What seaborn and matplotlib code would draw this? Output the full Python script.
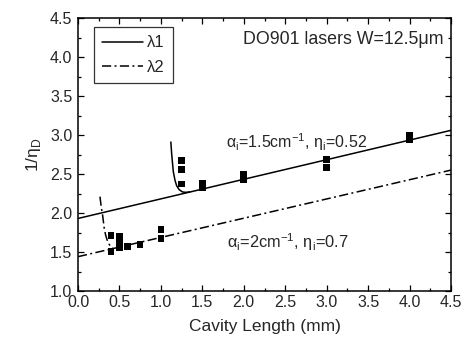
import matplotlib
matplotlib.use("Agg")
import matplotlib.pyplot as plt
import seaborn as sns
import pandas as pd
from matplotlib.ticker import MultipleLocator, FormatStrFormatter
from matplotlib.lines import Line2D

# ---- data ----
len_mm = [0.4, 0.4, 0.5, 0.5, 0.5, 0.6, 0.75, 1.0, 1.0,
          1.25, 1.25, 1.25, 1.5, 1.5, 2.0, 2.0, 3.0, 3.0, 4.0, 4.0]
inv_eta = [1.71, 1.51, 1.70, 1.62, 1.56, 1.57, 1.60, 1.79, 1.67,
           2.67, 2.56, 2.37, 2.38, 2.32, 2.49, 2.43, 2.69, 2.58, 3.00, 2.94]

fit_x = [0.0, 4.5]
fit1_y = [1.93, 3.06]
fit2_y = [1.44, 2.55]

curve1_x = [1.12, 1.13, 1.14, 1.15, 1.17, 1.19, 1.22, 1.26, 1.30, 1.35]
curve1_y = [2.91, 2.76, 2.64, 2.53, 2.42, 2.35, 2.30, 2.27, 2.265, 2.27]
curve2_x = [0.265, 0.28, 0.297, 0.317, 0.335, 0.353, 0.375, 0.40, 0.43]
curve2_y = [2.21, 2.08, 1.97, 1.80, 1.71, 1.65, 1.60, 1.56, 1.54]

series_labels = ["λ1", "λ2"]
title_text = "DO901 lasers W=12.5μm"
anno1 = "α$_\\mathregular{i}$=1.5cm$^\\mathregular{-1}$, η$_\\mathregular{i}$=0.52"
anno2 = "α$_\\mathregular{i}$=2cm$^\\mathregular{-1}$, η$_\\mathregular{i}$=0.7"

sns.set_style("ticks")
plt.rcParams["font.family"] = ["Liberation Sans", "DejaVu Sans"]
plt.rcParams["mathtext.fontset"] = "custom"
plt.rcParams["mathtext.rm"] = "Liberation Sans"

fig = plt.figure(figsize=(4.66, 3.52), dpi=100)
ax = fig.add_axes([78/466, 1-291/352, (451-78)/466, (291-18)/352])

dash = (0, (6.0, 2.2, 1.3, 2.2))
pts = pd.DataFrame({"L": len_mm, "y": inv_eta})
f1 = pd.DataFrame({"L": fit_x, "y": fit1_y})
f2 = pd.DataFrame({"L": fit_x, "y": fit2_y})
c1 = pd.DataFrame({"L": curve1_x, "y": curve1_y})
c2 = pd.DataFrame({"L": curve2_x, "y": curve2_y})

lw = 1.1
sns.lineplot(data=f1, x="L", y="y", ax=ax, color="black", lw=lw, legend=False)
sns.lineplot(data=f2, x="L", y="y", ax=ax, color="black", lw=lw, linestyle=dash, legend=False)
sns.lineplot(data=c1, x="L", y="y", ax=ax, color="black", lw=lw, sort=False, legend=False)
sns.lineplot(data=c2, x="L", y="y", ax=ax, color="black", lw=lw, linestyle=dash, sort=False, legend=False)
sns.scatterplot(data=pts, x="L", y="y", ax=ax, marker="s", s=23, color="black",
                edgecolor="none", linewidth=0, legend=False, zorder=3)

ax.set_xlim(0, 4.5)
ax.set_ylim(1.0, 4.5)
ax.xaxis.set_major_locator(MultipleLocator(0.5))
ax.xaxis.set_minor_locator(MultipleLocator(0.25))
ax.yaxis.set_major_locator(MultipleLocator(0.5))
ax.yaxis.set_minor_locator(MultipleLocator(0.25))
ax.xaxis.set_major_formatter(FormatStrFormatter("%.1f"))
ax.yaxis.set_major_formatter(FormatStrFormatter("%.1f"))
ax.tick_params(which="both", direction="in", top=True, right=True, labelsize=11.5,
               color="black", width=0.9)
ax.tick_params(axis="x", pad=3)
ax.tick_params(axis="y", pad=4)
ax.tick_params(which="major", length=4)
ax.tick_params(which="minor", length=2.2)
for s in ax.spines.values():
    s.set_visible(True)
    s.set_color("black")
    s.set_linewidth(1.1)

ax.set_xlabel("Cavity Length (mm)", fontsize=12.5, labelpad=6)
ax.set_ylabel("1/η$_\\mathregular{D}$", fontsize=12.5, labelpad=5)

ax.text(4.41, 4.22, title_text, fontsize=12.8, ha="right", va="center")
ax.text(1.79, 2.91, anno1, fontsize=11.5, ha="left", va="center")
ax.text(1.80, 1.62, anno2, fontsize=11.8, ha="left", va="center")

handles = [Line2D([], [], color="black", lw=lw),
           Line2D([], [], color="black", lw=lw, linestyle=dash)]
leg = ax.legend(handles, series_labels, loc="upper left", bbox_to_anchor=(0.042, 0.967),
                fontsize=12, frameon=True, fancybox=False, handlelength=2.45,
                borderpad=0.5, labelspacing=0.55, handletextpad=0.25, borderaxespad=0)
leg.get_frame().set_edgecolor("black")
leg.get_frame().set_linewidth(0.9)

fig.savefig("out.png", dpi=100)
